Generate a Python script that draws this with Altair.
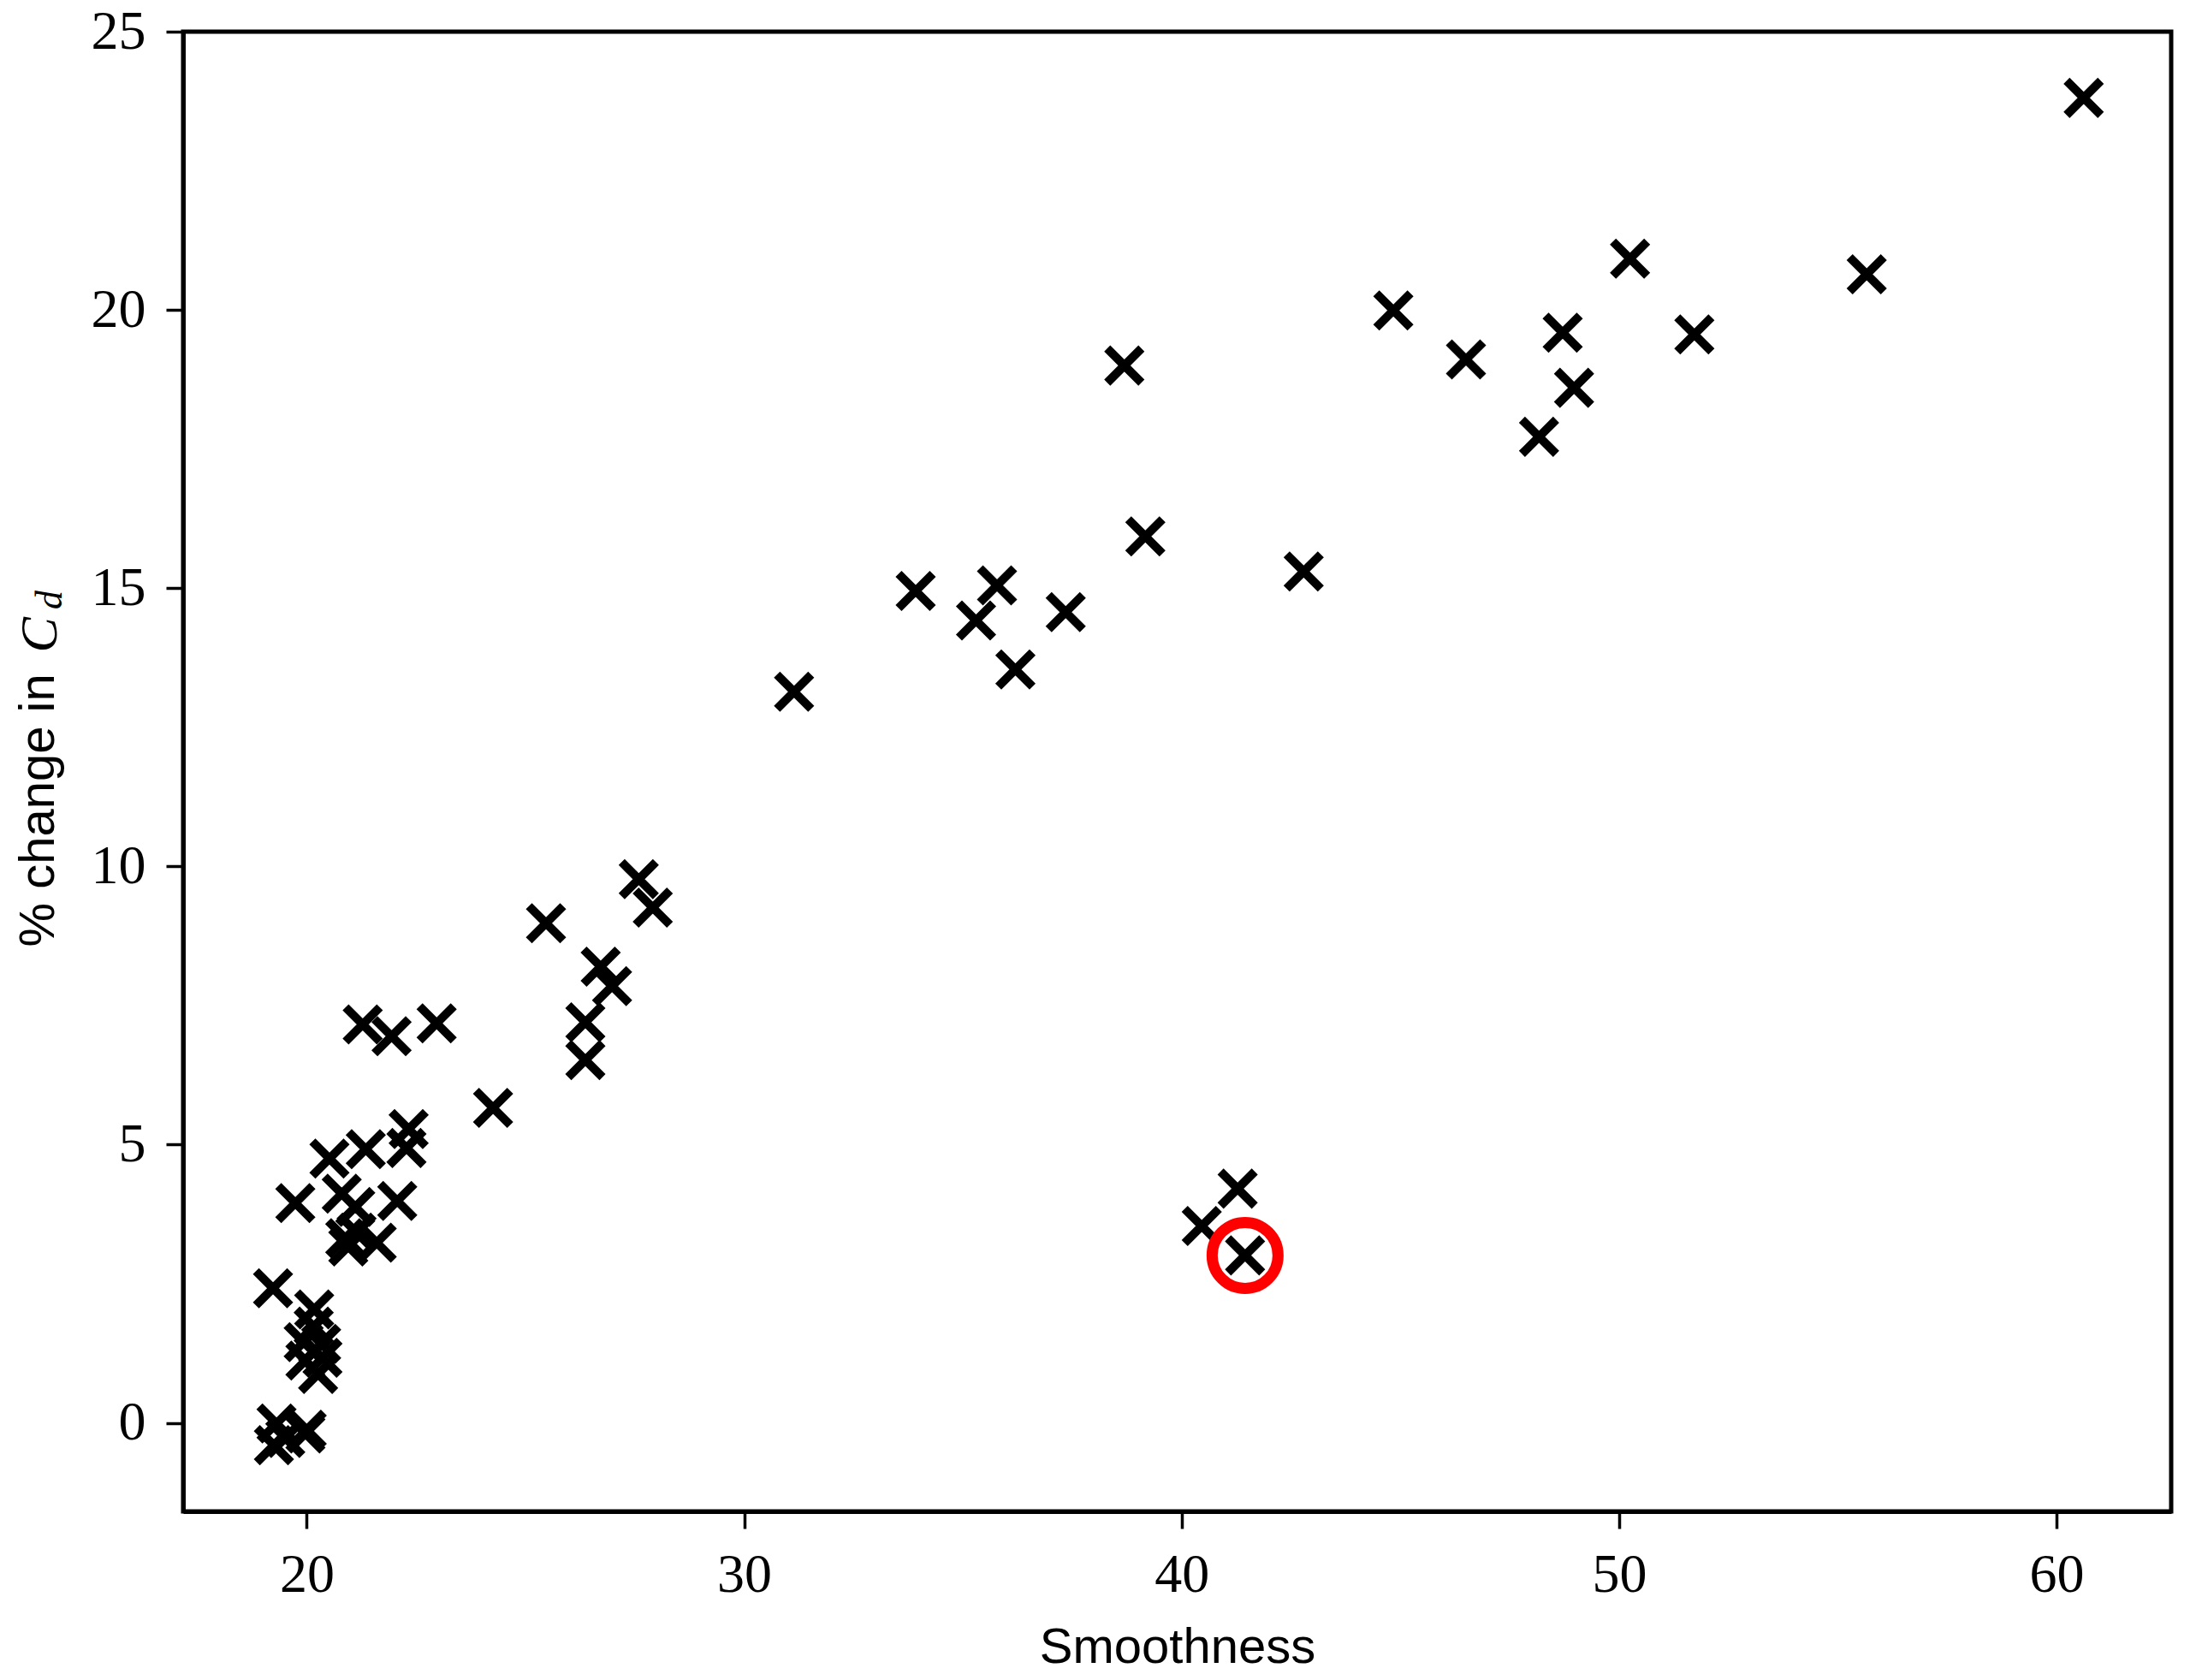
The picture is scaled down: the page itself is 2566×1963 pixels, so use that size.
import altair as alt
import pandas as pd

# Smoothness (x) and % change in Cd (y)
smoothness = [
    60.62, 50.25, 55.66, 44.84, 46.50, 48.71, 51.72, 48.97, 48.17, 38.69,
    39.17, 42.79, 33.92, 35.78, 35.30, 37.35, 36.20, 31.14, 27.59, 27.91,
    25.47, 26.72, 26.98, 26.37, 26.37, 24.26, 22.97, 21.28, 21.94,
    40.46, 41.28, 41.45,
    22.33, 22.28, 21.35, 20.52, 20.80, 22.07, 19.74, 21.11, 21.60, 20.88,
    21.14, 20.95,
    19.23, 20.17, 20.26, 19.93, 20.33, 19.97, 20.36, 20.16,
    20.00, 19.31, 19.25, 19.51, 19.97,
]
cd_change = [
    23.81, 20.92, 20.64, 19.99, 19.11, 19.59, 19.56, 18.60, 17.72, 19.00,
    15.93, 15.30, 14.95, 15.05, 14.42, 14.57, 13.54, 13.14, 9.77, 9.26,
    8.98, 8.20, 7.85, 7.20, 6.52, 5.66, 7.18, 7.16, 6.95,
    3.54, 4.21, 3.01,
    5.28, 4.94, 4.92, 4.75, 4.12, 3.99, 3.95, 3.88, 3.24, 3.32,
    3.42, 3.17,
    2.42, 2.04, 0.88, 1.45, 1.42, 1.12, 1.17, 1.73,
    -0.12, -0.01, -0.40, -0.27, -0.19,
]
highlight_x = [41.45]
highlight_y = [3.01]

x_ticks = [20, 30, 40, 50, 60]
y_ticks = [0, 5, 10, 15, 20, 25]

W, H = 2323, 1729

df = pd.DataFrame({"s": smoothness, "c": cd_change})
hl = pd.DataFrame({"s": highlight_x, "c": highlight_y})

xscale = alt.Scale(domain=[17.175, 62.62], nice=False, zero=False)
yscale = alt.Scale(domain=[-1.59, 25.0], nice=False, zero=False)

xaxis = alt.Axis(values=x_ticks, title="Smoothness", grid=False, format="d",
                 labelFont="Liberation Serif", labelFontSize=64, labelColor="black",
                 labelPadding=22, tickSize=20, tickWidth=3.5, tickColor="black",
                 domainColor="black", domainWidth=5, titleFont="Liberation Sans",
                 titleFontSize=58, titleFontWeight="normal", titleColor="black",
                 titlePadding=24, labelFlush=False)
yaxis = alt.Axis(values=y_ticks, title=None, grid=False, format="d",
                 labelFont="Liberation Serif", labelFontSize=64, labelColor="black",
                 labelPadding=24, tickSize=20, tickWidth=3.5, tickColor="black",
                 domainColor="black", domainWidth=5, labelFlush=False)

pts = alt.Chart(df).mark_point(
    shape="M-1,-1L1,1M-1,1L1,-1", size=1600, filled=False,
    stroke="black", strokeWidth=10, opacity=1, strokeCap="butt",
).encode(
    x=alt.X("s:Q", scale=xscale, axis=xaxis),
    y=alt.Y("c:Q", scale=yscale, axis=yaxis),
)

ring = alt.Chart(hl).mark_point(
    shape="circle", size=5929, filled=False, stroke="#ff0000",
    strokeWidth=13, opacity=1,
).encode(x=alt.X("s:Q", scale=xscale), y=alt.Y("c:Q", scale=yscale))

t1 = alt.Chart(pd.DataFrame({"t": ["% change in"]})).mark_text(
    angle=270, align="left", baseline="alphabetic", font="Liberation Sans",
    fontSize=58, color="black",
).encode(x=alt.value(-151), y=alt.value(1069.5), text="t:N")
t2 = alt.Chart(pd.DataFrame({"t": ["C"]})).mark_text(
    angle=270, align="left", baseline="alphabetic", font="Liberation Serif",
    fontStyle="italic", fontSize=62, color="black",
).encode(x=alt.value(-148), y=alt.value(725.5), text="t:N")
t3 = alt.Chart(pd.DataFrame({"t": ["d"]})).mark_text(
    angle=270, align="left", baseline="alphabetic", font="Liberation Serif",
    fontStyle="italic", fontSize=44, color="black",
).encode(x=alt.value(-142), y=alt.value(675), text="t:N")

chart = alt.layer(pts, ring, t1, t2, t3).properties(
    width=W, height=H,
    autosize=alt.AutoSizeParams(type="none"),
    padding={"left": 206, "top": 29, "right": 20, "bottom": 192},
).configure(background="white").configure_view(stroke="black", strokeWidth=5)

chart.save("out.html", embed_options={"renderer": "svg", "actions": False})
